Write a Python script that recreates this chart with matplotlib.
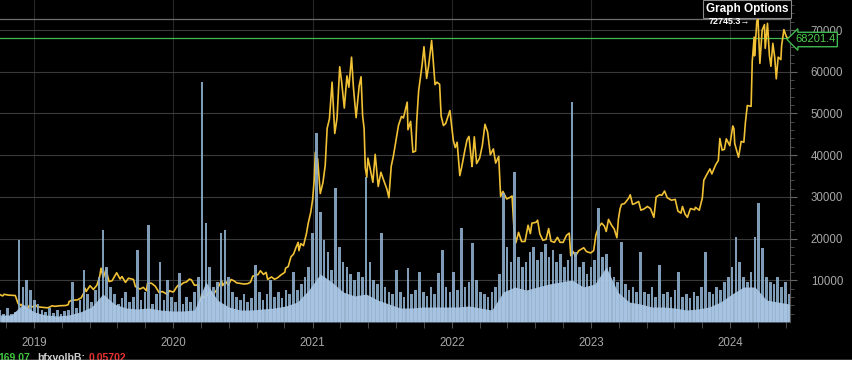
import matplotlib
matplotlib.use("Agg")
import matplotlib.pyplot as plt
from matplotlib.patches import Rectangle
import pandas as pd

plt.rcParams['font.family'] = ['Liberation Sans', 'DejaVu Sans']

# daily-ish BTC close
price_points = [
    ("2018-10-04", 6550), ("2018-10-11", 6250), ("2018-10-15", 6650), ("2018-10-25", 6450),
    ("2018-11-05", 6400), ("2018-11-13", 6350), ("2018-11-16", 5600), ("2018-11-20", 4500),
    ("2018-11-25", 3900), ("2018-11-28", 4250), ("2018-12-07", 3400), ("2018-12-15", 3200),
    ("2018-12-20", 4000), ("2018-12-27", 3600),
    ("2019-01-06", 4050), ("2019-01-10", 3600), ("2019-01-20", 3550), ("2019-01-30", 3450),
    ("2019-02-07", 3400), ("2019-02-18", 3900), ("2019-02-24", 3750), ("2019-03-10", 3900),
    ("2019-03-25", 3950), ("2019-04-01", 4150), ("2019-04-03", 4900), ("2019-04-10", 5200),
    ("2019-04-25", 5300), ("2019-05-05", 5800), ("2019-05-12", 7000), ("2019-05-15", 8100),
    ("2019-05-18", 7300), ("2019-05-28", 8700), ("2019-06-06", 7800), ("2019-06-15", 8800),
    ("2019-06-22", 10700), ("2019-06-26", 12900), ("2019-07-02", 10600), ("2019-07-09", 12600),
    ("2019-07-17", 9700), ("2019-07-25", 9900), ("2019-08-06", 11800), ("2019-08-15", 10300),
    ("2019-08-20", 10900), ("2019-08-29", 9500), ("2019-09-06", 10500), ("2019-09-19", 10200),
    ("2019-09-24", 8500), ("2019-10-06", 7900), ("2019-10-15", 8300), ("2019-10-23", 7500),
    ("2019-10-26", 9300), ("2019-11-05", 9300), ("2019-11-15", 8600), ("2019-11-25", 7100),
    ("2019-12-04", 7300), ("2019-12-17", 6600), ("2019-12-22", 7500), ("2019-12-31", 7200),
    ("2020-01-03", 7300), ("2020-01-08", 8100), ("2020-01-14", 8800), ("2020-01-19", 8700),
    ("2020-01-28", 9400), ("2020-02-05", 9600), ("2020-02-13", 10300), ("2020-02-18", 10100),
    ("2020-02-26", 8800), ("2020-03-07", 8900), ("2020-03-12", 4900), ("2020-03-19", 6200),
    ("2020-03-23", 5800), ("2020-03-30", 6400), ("2020-04-06", 7200), ("2020-04-15", 6650),
    ("2020-04-23", 7500), ("2020-04-30", 8650), ("2020-05-07", 9950), ("2020-05-10", 8750),
    ("2020-05-18", 9700), ("2020-05-25", 8800), ("2020-06-01", 10200), ("2020-06-10", 9800),
    ("2020-06-15", 9400), ("2020-06-25", 9250), ("2020-07-05", 9100), ("2020-07-15", 9200),
    ("2020-07-22", 9550), ("2020-07-28", 11000), ("2020-08-02", 11100), ("2020-08-11", 11400),
    ("2020-08-17", 12300), ("2020-08-25", 11400), ("2020-09-01", 11900), ("2020-09-05", 10200),
    ("2020-09-15", 10800), ("2020-09-23", 10250), ("2020-10-01", 10600), ("2020-10-10", 11300),
    ("2020-10-20", 11900), ("2020-10-22", 12900), ("2020-10-29", 13300), ("2020-11-05", 15600),
    ("2020-11-12", 16300), ("2020-11-18", 17800), ("2020-11-24", 19100), ("2020-11-26", 17100),
    ("2020-12-01", 18800), ("2020-12-08", 18300), ("2020-12-16", 21300), ("2020-12-20", 23500),
    ("2020-12-27", 26300), ("2021-01-01", 29400),
    ("2021-01-05", 33900), ("2021-01-08", 40700), ("2021-01-11", 35500), ("2021-01-14", 39200),
    ("2021-01-21", 30800), ("2021-01-28", 33400), ("2021-02-03", 37600), ("2021-02-08", 46400),
    ("2021-02-14", 48700), ("2021-02-21", 57500), ("2021-02-28", 45200), ("2021-03-06", 48900),
    ("2021-03-13", 61200), ("2021-03-18", 57600), ("2021-03-25", 51300), ("2021-04-01", 59000),
    ("2021-04-06", 56300), ("2021-04-13", 63500), ("2021-04-18", 56200), ("2021-04-25", 49000),
    ("2021-05-03", 56600), ("2021-05-08", 58800), ("2021-05-12", 49500), ("2021-05-16", 46400),
    ("2021-05-19", 37000), ("2021-05-23", 34700), ("2021-05-26", 39300), ("2021-06-01", 36700),
    ("2021-06-08", 33500), ("2021-06-14", 40200), ("2021-06-22", 32500), ("2021-06-29", 35900),
    ("2021-07-07", 33800), ("2021-07-15", 31800), ("2021-07-20", 29800), ("2021-07-26", 37300),
    ("2021-08-01", 39900), ("2021-08-08", 43800), ("2021-08-14", 47100), ("2021-08-22", 49300),
    ("2021-08-27", 48900), ("2021-09-06", 52700), ("2021-09-08", 46100), ("2021-09-15", 48100),
    ("2021-09-21", 40700), ("2021-09-28", 41000), ("2021-10-01", 48200), ("2021-10-06", 55400),
    ("2021-10-15", 61600), ("2021-10-20", 66000), ("2021-10-27", 58400), ("2021-11-01", 61300),
    ("2021-11-09", 67500), ("2021-11-12", 64200), ("2021-11-18", 56900), ("2021-11-23", 57500),
    ("2021-11-30", 57000), ("2021-12-04", 49400), ("2021-12-10", 47100), ("2021-12-16", 47600),
    ("2021-12-27", 50700),
    ("2022-01-05", 43500), ("2022-01-10", 41800), ("2022-01-15", 43100), ("2022-01-22", 35100),
    ("2022-01-27", 37200), ("2022-02-05", 41500), ("2022-02-10", 43700), ("2022-02-15", 44500),
    ("2022-02-23", 37300), ("2022-02-24", 38300), ("2022-03-01", 44400), ("2022-03-07", 38000),
    ("2022-03-15", 39300), ("2022-03-22", 42300), ("2022-03-29", 47400), ("2022-04-05", 45500),
    ("2022-04-12", 40100), ("2022-04-20", 41500), ("2022-04-26", 38100), ("2022-05-04", 39700),
    ("2022-05-09", 30100), ("2022-05-15", 31300), ("2022-05-25", 29500), ("2022-06-01", 29800),
    ("2022-06-08", 30200), ("2022-06-13", 22500), ("2022-06-18", 19000), ("2022-06-25", 21500),
    ("2022-07-03", 19300), ("2022-07-12", 19300), ("2022-07-20", 23200), ("2022-07-26", 21200),
    ("2022-07-30", 23700), ("2022-08-10", 23900), ("2022-08-14", 24400), ("2022-08-20", 21100),
    ("2022-08-28", 19600), ("2022-09-05", 19800), ("2022-09-12", 22400), ("2022-09-18", 19400),
    ("2022-09-27", 19100), ("2022-10-05", 20300), ("2022-10-12", 19100), ("2022-10-20", 19100),
    ("2022-10-29", 20800), ("2022-11-05", 21300), ("2022-11-09", 15900), ("2022-11-15", 16900),
    ("2022-11-21", 15800), ("2022-11-30", 17100), ("2022-12-13", 17800), ("2022-12-20", 16900),
    ("2022-12-31", 16550),
    ("2023-01-08", 17100), ("2023-01-14", 20900), ("2023-01-21", 22700), ("2023-01-29", 23700),
    ("2023-02-05", 23000), ("2023-02-10", 21700), ("2023-02-16", 24600), ("2023-02-24", 23200),
    ("2023-03-03", 22300), ("2023-03-10", 20200), ("2023-03-14", 24700), ("2023-03-18", 27000),
    ("2023-03-22", 28200), ("2023-03-30", 28400), ("2023-04-10", 29700), ("2023-04-14", 30500),
    ("2023-04-20", 28200), ("2023-04-26", 28400), ("2023-05-06", 28900), ("2023-05-12", 26800),
    ("2023-05-20", 27100), ("2023-05-29", 27700), ("2023-06-06", 27200), ("2023-06-15", 25100),
    ("2023-06-21", 30000), ("2023-06-30", 30500), ("2023-07-06", 30400), ("2023-07-13", 31400),
    ("2023-07-20", 29800), ("2023-07-31", 29200), ("2023-08-10", 29400), ("2023-08-17", 26600),
    ("2023-08-25", 26100), ("2023-08-29", 27700), ("2023-09-05", 25800), ("2023-09-11", 25100),
    ("2023-09-19", 27200), ("2023-09-30", 26900), ("2023-10-02", 27500), ("2023-10-12", 26800),
    ("2023-10-20", 29700), ("2023-10-24", 34000), ("2023-11-01", 35400), ("2023-11-09", 36700),
    ("2023-11-14", 35500), ("2023-11-24", 37700), ("2023-12-01", 38700), ("2023-12-05", 44000),
    ("2023-12-11", 41200), ("2023-12-17", 41400), ("2023-12-22", 43900), ("2023-12-31", 42300),
    ("2024-01-08", 47000), ("2024-01-11", 46300), ("2024-01-13", 42800), ("2024-01-23", 39500),
    ("2024-01-30", 43300), ("2024-02-06", 43100), ("2024-02-10", 47800), ("2024-02-15", 51900),
    ("2024-02-25", 51700), ("2024-02-28", 62500), ("2024-03-04", 68300), ("2024-03-05", 63800),
    ("2024-03-11", 72100), ("2024-03-14", 72745), ("2024-03-19", 62000), ("2024-03-25", 70000),
    ("2024-03-31", 71300), ("2024-04-02", 65600), ("2024-04-08", 71600), ("2024-04-13", 63900),
    ("2024-04-17", 61300), ("2024-04-22", 66800), ("2024-04-27", 63400), ("2024-05-01", 58300),
    ("2024-05-06", 63500), ("2024-05-13", 62900), ("2024-05-15", 66200), ("2024-05-21", 70100),
    ("2024-05-27", 68500), ("2024-06-01", 67800), ("2024-06-04", 68201.4),
]

# volume, one value per 10 days (spiky part) and per 30 days (dense base)
vol_start = "2018-10-04"
vol_peaks = [
    12, 8, 14, 8, 10, 82, 35, 42, 32, 22,
    18, 12, 10, 14, 9, 12, 8, 11, 12, 40,
    14, 22, 52, 28, 20, 32, 45, 92, 55, 35,
    28, 18, 24, 30, 20, 25, 72, 22, 30, 97,
    18, 28, 60, 22, 42, 25, 20, 49, 18, 25,
    20, 30, 45, 240, 99, 55, 35, 40, 89, 92,
    45, 30, 25, 22, 28, 20, 24, 57, 30, 22,
    28, 42, 25, 30, 24, 32, 28, 50, 32, 38,
    45, 55, 89, 189, 110, 82, 70, 52, 134, 75,
    60, 55, 48, 42, 50, 45, 145, 60, 42, 38,
    89, 35, 30, 28, 52, 30, 25, 54, 28, 32,
    50, 30, 26, 35, 28, 49, 72, 35, 30, 50,
    32, 94, 35, 40, 79, 42, 30, 28, 25, 30,
    35, 48, 129, 75, 60, 150, 65, 55, 60, 70,
    75, 62, 70, 78, 65, 72, 60, 68, 55, 62,
    220, 70, 55, 60, 48, 55, 62, 114, 65, 68,
    55, 45, 40, 80, 38, 32, 35, 30, 70, 30,
    28, 35, 25, 57, 28, 30, 25, 32, 50, 25,
    28, 24, 30, 26, 35, 70, 30, 28, 35, 32,
    40, 45, 55, 85, 60, 45, 40, 50, 85, 119,
    74, 45, 40, 38, 45, 35, 40, 28,
]
vol_base = [
    7, 7, 18, 10, 7, 6, 7, 10, 15, 28,
    18, 14, 13, 14, 12, 11, 11, 12, 40, 22,
    15, 12, 12, 13, 14, 16, 20, 32, 48, 40,
    30, 26, 28, 22, 18, 14, 14, 15, 15, 15,
    15, 16, 14, 12, 30, 35, 32, 35, 38, 40,
    42, 35, 38, 55, 30, 20, 18, 15, 15, 14,
    12, 13, 15, 20, 28, 35, 35, 22, 20, 18,
]

years = [2019, 2020, 2021, 2022, 2023, 2024]
price_ticks = [10000, 20000, 30000, 40000, 50000, 60000, 70000]
high_price = 72745.3
last_price = 68201.4

price_dates = pd.to_datetime([d for d, _ in price_points])
price_vals = [v for _, v in price_points]
peak_dates = pd.date_range(vol_start, periods=len(vol_peaks), freq="10D")
base_dates = pd.date_range(vol_start, periods=len(vol_base), freq="30D")

W, H = 852, 369
fig = plt.figure(figsize=(W / 100, H / 100), dpi=100, facecolor="black")
ax = fig.add_axes([0, 47 / H, 790 / W, 322 / H])
ax.set_facecolor("black")

ax.plot(price_dates, price_vals, color="#f0c035", lw=1.2, zorder=3)
ax.axhline(high_price, color="#6e6e6e", lw=0.9, zorder=2)
ax.axhline(last_price, color="#3fb950", lw=0.9, zorder=2)

# volume on top, semi transparent so the price line shows through pale
ax2 = ax.twinx()
ax2.bar(peak_dates, vol_peaks, width=7, color="#8eaecc", alpha=0.9, linewidth=0)
ax2.fill_between(base_dates, vol_base, color="#abc9e6", alpha=0.9, lw=0)
ax2.set_ylim(0, 322)
ax2.axis("off")

ax.set_xlim(pd.Timestamp("2018-10-04"), pd.Timestamp("2024-06-06"))
ax.set_ylim(0, 77200)

# axes / grid (after twinx, which moves the ticks to the left)
ax.yaxis.tick_right()
ax.set_yticks(price_ticks)
ax.set_yticklabels([str(t) for t in price_ticks])
ax.set_yticks(range(2000, 76001, 2000), minor=True)
ax.set_xticks([pd.Timestamp(f"{y}-01-01") for y in years])
ax.set_xticklabels([str(y) for y in years])
minor_x = [pd.Timestamp(f"{y}-01-01") + pd.Timedelta(days=round(k * 73.05))
           for y in range(2018, 2025) for k in range(1, 5)]
ax.set_xticks(minor_x, minor=True)
ax.set_xlim(pd.Timestamp("2018-10-04"), pd.Timestamp("2024-06-06"))

ax.tick_params(axis="y", which="major", length=5, color="#666666",
               labelcolor="#a8a8a8", labelsize=8.3, pad=10)
ax.tick_params(axis="y", which="minor", length=3, color="#555555")
ax.tick_params(axis="x", which="both", length=4, color="#555555",
               labelcolor="#a8a8a8", labelsize=8.3, pad=7)
for s in ["left", "top", "bottom"]:
    ax.spines[s].set_visible(False)
ax.spines["right"].set_color("#555555")
ax.grid(axis="y", which="major", color="#3a3a3a", lw=0.8)
ax.grid(axis="x", which="major", color="#262626", lw=0.8)
ax.set_axisbelow(True)

# labels
fig.text(747 / W, 1 - 9 / H, "Graph Options", color="white", weight="bold",
         fontsize=8.5, ha="center", va="center",
         bbox=dict(boxstyle="square,pad=0.25", fc="black", ec="#8a8a8a", lw=0.8))
fig.text(709 / W, 1 - 21 / H, "72745.3\u2192", color="white", weight="bold",
         fontsize=6.5, ha="left", va="center")
fig.text(815 / W, 1 - 39.5 / H, "68201.4", color="#4cd04c", fontsize=8,
         ha="center", va="center",
         bbox=dict(boxstyle="larrow,pad=0.2", fc="black", ec="#3fb950", lw=1))

fig.text(-2 / W, 8 / H, "169.07", color="#3ec43e", weight="bold", fontsize=7.5, va="baseline")
fig.text(37 / W, 8 / H, "bfxvolbB:", color="#d0d0d0", weight="bold", fontsize=7.5, va="baseline")
fig.text(89 / W, 8 / H, "0.05702", color="#e83030", weight="bold", fontsize=7.5, va="baseline")
fig.add_artist(Rectangle((0, 0), 1, 9.5 / H, transform=fig.transFigure,
                         color="white", zorder=20))

fig.savefig("out.png", dpi=100, facecolor="black")
